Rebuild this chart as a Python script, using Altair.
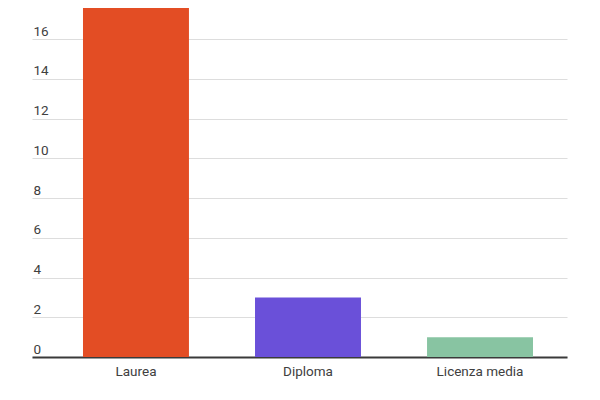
import altair as alt
import pandas as pd

categories = ["Laurea", "Diploma", "Licenza media"]
values = [18, 3, 1]
colors = ["#E34D24", "#6A50D9", "#88C4A2"]

df = pd.DataFrame({"cat": categories, "val": values})

chart = alt.Chart(df).mark_bar(clip=True).encode(
    x=alt.X("cat:N", sort=categories, title=None,
            scale=alt.Scale(paddingInner=0.384, paddingOuter=0.247, align=0.6),
            axis=alt.Axis(labelAngle=0, ticks=False, domainColor="#3a3a3a", domainWidth=2,
                          labelPadding=7, labelFontSize=13.5, labelColor="#404040",
                          labelFont="Roboto", grid=False)),
    y=alt.Y("val:Q", title=None,
            scale=alt.Scale(domain=[0, 17.56], nice=False),
            axis=alt.Axis(values=list(range(0, 17, 2)), ticks=False, domain=False,
                          labelAlign="left", labelBaseline="alphabetic", labelOffset=-4,
                          labelPadding=-1, labelFontSize=13.5, labelColor="#404040",
                          labelFont="Roboto",
                          gridColor="#dddddd", gridWidth=1)),
    color=alt.Color("cat:N", sort=categories, legend=None,
                    scale=alt.Scale(domain=categories, range=colors)),
).properties(
    width=535, height=349, padding={"left": 24, "top": 0, "right": 5, "bottom": 5}
).configure_view(stroke=None)

chart.save("out.html", embed_options={"renderer": "svg", "actions": False})
